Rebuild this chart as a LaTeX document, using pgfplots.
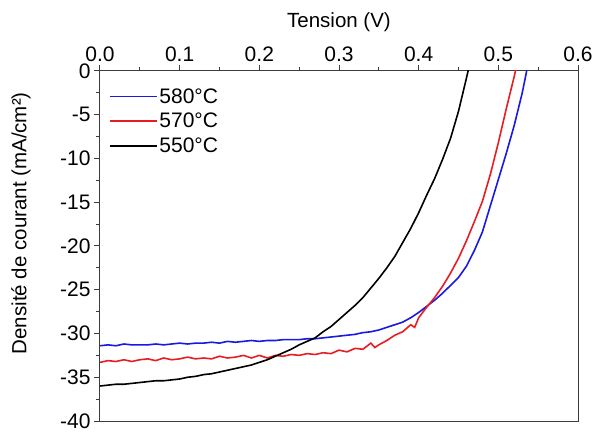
\documentclass[border=0pt]{standalone}
\usepackage{fontspec}
\setmainfont{Liberation Sans}
\usepackage{pgfplots}
\pgfplotsset{compat=1.18}
\definecolor{cblue}{RGB}{25,25,225}
\definecolor{cred}{RGB}{230,30,35}
\definecolor{axgray}{RGB}{60,60,60}
\newcommand{\lgf}{\fontsize{21bp}{24bp}\selectfont}
\begin{document}
\begin{tikzpicture}
\begin{axis}[
  at={(0,0)}, anchor=south west,
  scale only axis, width=478bp, height=350bp,
  xmin=0, xmax=0.6, ymin=-40, ymax=0,
  xtick={0,0.1,0.2,0.3,0.4,0.5,0.6},
  xticklabels={0.0,0.1,0.2,0.3,0.4,0.5,0.6},
  ytick={-40,-35,-30,-25,-20,-15,-10,-5,0},
  yticklabels={-40,-35,-30,-25,-20,-15,-10,-5,0},
  minor x tick num=1, minor y tick num=1,
  xtick pos=upper, ytick pos=left,
  xticklabel pos=upper,
  tick align=outside,
  major tick length=6bp, minor tick length=3.5bp,
  axis line style={line width=1bp, color=axgray},
  every tick/.style={line width=1bp, color=axgray},
  every tick label/.append style={font=\lgf, text=black},
  every axis x label/.style={at={(axis description cs:0.5,1)}, yshift=49bp, anchor=center, font=\fontsize{20.5bp}{24bp}\selectfont},
  every axis y label/.style={at={(axis description cs:0,0.565)}, xshift=-79bp, rotate=90, anchor=center, font=\fontsize{20.5bp}{24bp}\selectfont},
  xlabel={Tension (V)},
  ylabel={Densité de courant (mA/cm²)},
  legend style={draw=none, fill=none, at={(axis description cs:0.016,0.754)}, anchor=south west, row sep=4.5bp, inner sep=1bp, nodes={font=\lgf}},
  legend cell align=left,
  clip=true,
]
\addlegendimage{legend image code/.code={\draw[white, line width=0.1bp] (0bp,0bp) -- (0.1bp,0bp);}}
\addlegendentry{}
\addlegendimage{legend image code/.code={\draw[draw=cblue, line width=1.6bp] (0bp,0bp) -- (47bp,0bp);}}
\addlegendentry{580°C}
\addlegendimage{legend image code/.code={\draw[draw=cred, line width=1.6bp] (0bp,0bp) -- (47bp,0bp);}}
\addlegendentry{570°C}
\addlegendimage{legend image code/.code={\draw[draw=black, line width=1.6bp] (0bp,0bp) -- (47bp,0bp);}}
\addlegendentry{550°C}
\addplot[forget plot, color=cblue, line width=1.6bp] coordinates {
(0.00,-31.4) (0.01,-31.3) (0.02,-31.4) (0.03,-31.2) (0.04,-31.3) (0.05,-31.3)
(0.06,-31.3) (0.07,-31.2) (0.08,-31.3) (0.09,-31.2) (0.10,-31.1) (0.11,-31.2)
(0.12,-31.1) (0.13,-31.1) (0.14,-31.0) (0.15,-31.1) (0.16,-30.9) (0.17,-31.0)
(0.18,-30.9) (0.19,-30.8) (0.20,-30.9) (0.21,-30.8) (0.22,-30.8) (0.23,-30.7)
(0.24,-30.7) (0.25,-30.7) (0.26,-30.6) (0.27,-30.6) (0.28,-30.5) (0.29,-30.4)
(0.30,-30.3) (0.31,-30.2) (0.32,-30.1) (0.33,-29.9) (0.34,-29.8) (0.35,-29.6)
(0.36,-29.3) (0.37,-29.0) (0.38,-28.7) (0.39,-28.2) (0.40,-27.6) (0.41,-26.9)
(0.42,-26.2) (0.43,-25.4) (0.44,-24.5) (0.45,-23.6) (0.46,-22.3) (0.47,-20.5)
(0.48,-18.4) (0.49,-15.4) (0.50,-12.4) (0.51,-9.4) (0.52,-6.2) (0.53,-2.5) (0.536,0.2)
};
\addplot[forget plot, color=cred, line width=1.6bp] coordinates {
(0.00,-33.3) (0.01,-33.1) (0.02,-33.2) (0.03,-33.0) (0.04,-33.2) (0.05,-33.0)
(0.06,-32.9) (0.07,-33.1) (0.08,-32.8) (0.09,-33.0) (0.10,-32.9) (0.11,-32.7)
(0.12,-32.9) (0.13,-32.8) (0.14,-32.9) (0.15,-32.6) (0.16,-32.8) (0.17,-32.7)
(0.18,-32.5) (0.19,-32.8) (0.20,-32.5) (0.21,-32.8) (0.22,-32.5) (0.23,-32.6)
(0.24,-32.4) (0.25,-32.5) (0.26,-32.3) (0.27,-32.4) (0.28,-32.2) (0.29,-32.3)
(0.30,-31.9) (0.31,-32.1) (0.32,-31.7) (0.33,-31.8) (0.34,-31.1) (0.345,-31.6)
(0.35,-31.3) (0.36,-30.8) (0.37,-30.2) (0.38,-29.8) (0.39,-29.0) (0.395,-29.3)
(0.40,-28.2) (0.41,-27.0) (0.42,-25.9) (0.43,-24.6) (0.44,-23.1) (0.45,-21.4)
(0.46,-19.4) (0.47,-17.2) (0.48,-14.9) (0.49,-11.8) (0.50,-8.2) (0.51,-4.3) (0.52,-0.6) (0.522,0.2)
};
\addplot[forget plot, color=black, line width=1.6bp] coordinates {
(0.00,-36.0) (0.01,-35.9) (0.02,-35.8) (0.03,-35.8) (0.04,-35.7) (0.05,-35.6)
(0.06,-35.5) (0.07,-35.4) (0.08,-35.4) (0.09,-35.3) (0.10,-35.2) (0.11,-35.0)
(0.12,-34.9) (0.13,-34.7) (0.14,-34.6) (0.15,-34.4) (0.16,-34.2) (0.17,-34.0)
(0.18,-33.8) (0.19,-33.6) (0.20,-33.3) (0.21,-33.0) (0.22,-32.6) (0.23,-32.2)
(0.24,-31.8) (0.25,-31.3) (0.26,-30.9) (0.27,-30.5) (0.28,-29.8) (0.29,-29.2)
(0.30,-28.4) (0.31,-27.6) (0.32,-26.8) (0.33,-25.9) (0.34,-24.8) (0.35,-23.7)
(0.36,-22.5) (0.37,-21.2) (0.38,-19.6) (0.39,-18.0) (0.40,-16.2) (0.41,-14.2)
(0.42,-12.3) (0.43,-10.1) (0.44,-7.7) (0.45,-4.6) (0.46,-0.8) (0.4625,0.2)
};
\end{axis}
\pgfresetboundingbox
\path (-100bp,-12bp) rectangle (494bp,421bp);
\end{tikzpicture}
\end{document}
